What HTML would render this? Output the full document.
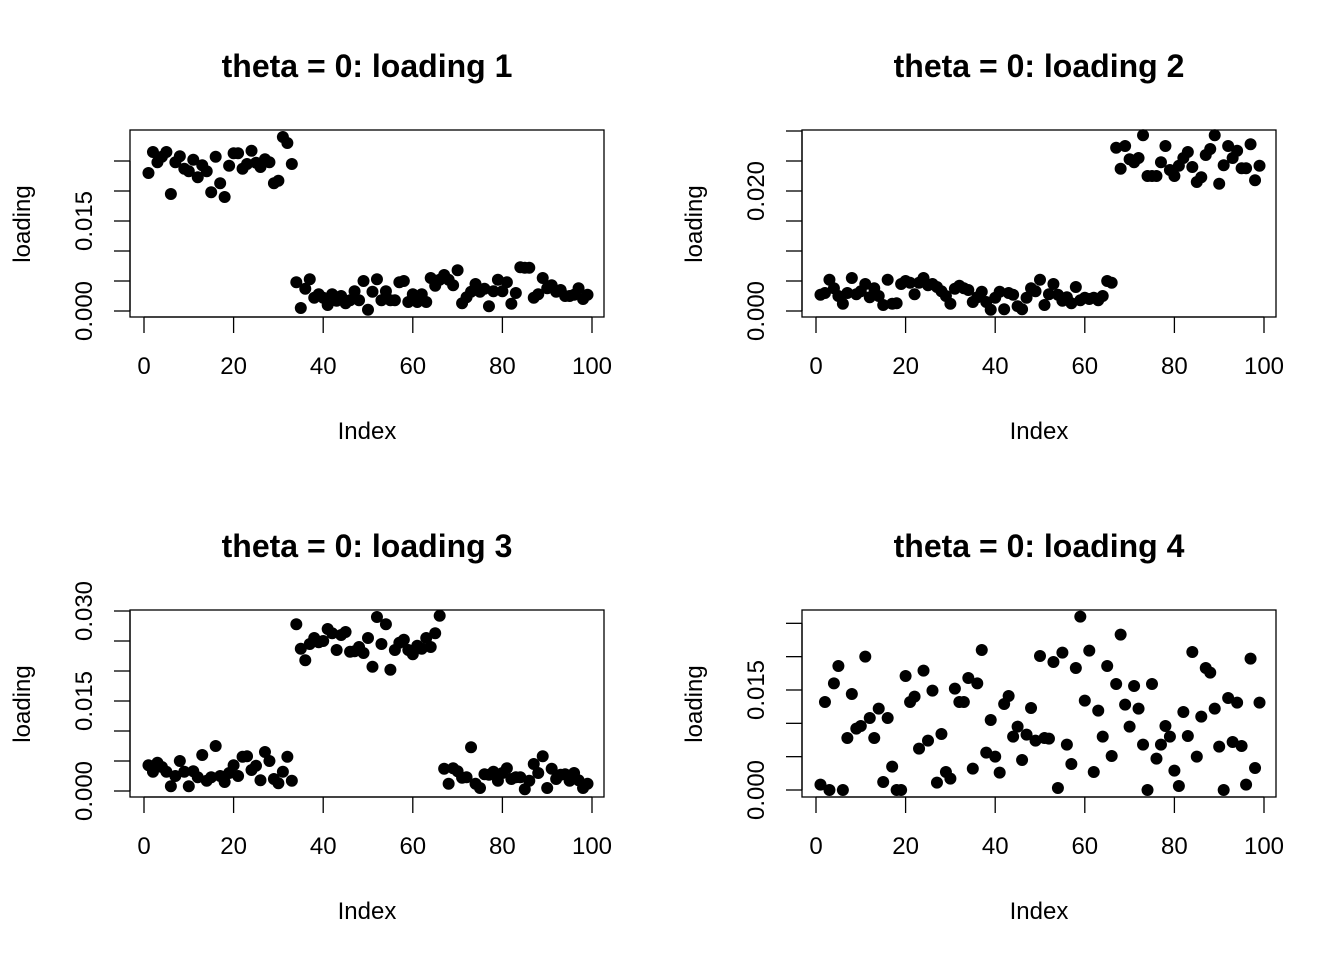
<!DOCTYPE html>
<html><head><meta charset="utf-8"><style>
body{margin:0;background:#fff}
svg{display:block;font-family:"Liberation Sans",Arial,sans-serif}
</style></head><body>
<svg id="c" width="1344" height="960"></svg>
<script>
const indexTicks=[0,20,40,60,80,100];
const load1=[23.0,26.5,24.8,25.7,26.5,19.5,24.8,25.8,23.7,23.3,25.2,22.3,24.3,23.3,19.8,25.7,21.3,19.0,24.2,26.3,26.3,23.7,24.5,26.7,24.7,24.0,25.3,24.8,21.3,21.7,29.0,28.0,24.5,4.8,0.5,3.7,5.3,2.2,2.8,2.2,1.0,2.8,1.7,2.5,1.3,1.8,3.3,1.8,5.0,0.2,3.2,5.3,1.8,3.3,1.8,1.8,4.8,5.0,1.5,2.8,1.5,2.8,1.5,5.5,4.2,5.2,6.0,5.2,4.3,6.8,1.3,2.3,3.2,4.5,3.2,3.7,0.8,3.3,5.2,3.3,4.8,1.2,3.0,7.3,7.2,7.2,2.2,2.8,5.5,3.8,4.3,3.2,3.5,2.5,2.5,2.7,3.8,2.0,2.7];
const load2=[2.7,3.0,5.2,3.8,2.5,1.2,3.0,5.5,2.8,3.3,4.5,2.3,3.8,2.5,1.0,5.2,1.2,1.3,4.5,5.0,4.7,2.8,4.7,5.5,4.3,4.5,4.0,3.3,2.5,1.2,3.7,4.2,3.8,3.5,1.5,2.3,3.2,1.5,0.2,2.2,3.2,0.3,3.0,2.7,0.8,0.3,2.2,3.8,3.3,5.2,1.0,2.8,4.5,2.7,1.7,2.3,1.3,4.0,1.8,2.2,2.0,2.2,1.8,2.5,5.0,4.7,27.2,23.7,27.5,25.3,24.8,25.5,29.3,22.5,22.5,22.5,24.8,27.5,23.5,22.5,24.2,25.5,26.5,24.0,21.5,22.3,26.0,27.0,29.3,21.2,24.3,27.5,25.5,26.7,23.8,23.8,27.8,21.8,24.2];
const load3=[4.3,3.2,4.7,4.0,3.2,0.8,2.5,5.0,3.2,0.8,3.3,2.3,6.0,1.7,2.3,7.5,2.5,1.5,3.0,4.3,2.5,5.7,5.8,3.5,4.2,1.8,6.5,5.0,2.0,1.3,3.2,5.7,1.7,27.8,23.7,21.8,24.5,25.5,24.8,25.0,27.0,26.3,23.5,26.0,26.5,23.2,23.3,24.0,23.0,25.5,20.7,29.0,24.5,27.8,20.2,23.5,24.7,25.2,23.5,22.8,24.2,23.7,25.5,24.0,26.3,29.2,3.7,1.2,3.8,3.3,2.2,2.3,7.3,1.2,0.5,2.8,2.7,3.2,1.7,3.0,3.8,2.0,2.3,2.3,0.3,1.7,4.5,3.0,5.8,0.5,3.7,2.0,2.7,2.8,1.7,3.0,1.8,0.5,1.2];
const load4=[0.8,13.2,0,16.0,18.6,0,7.8,14.4,9.2,9.6,20.0,10.8,7.8,12.2,1.2,10.8,3.5,0,0,17.1,13.2,14.0,6.2,17.9,7.4,14.9,1.1,8.4,2.7,1.7,15.2,13.2,13.2,16.8,3.2,16.0,21.0,5.6,10.5,5.0,2.6,12.9,14.1,8.0,9.5,4.5,8.3,12.3,7.4,20.1,7.8,7.7,19.2,0.3,20.6,6.8,3.9,18.3,26.0,13.4,20.9,2.7,11.9,8.0,18.6,5.1,15.9,23.3,12.8,9.5,15.6,12.2,6.8,0,15.9,4.7,6.8,9.6,8.0,2.9,0.6,11.7,8.1,20.7,5.0,11.0,18.3,17.6,12.2,6.5,0,13.8,7.2,13.1,6.6,0.8,19.7,3.3,13.1];
const yTicks1=[0,5,10,15,20,25], yLab1=["0.000","","","0.015","",""];
const yTicks2=[0,5,10,15,20,25,30], yLab2=["0.000","","","","0.020","",""];
const yTicks3=[0,5,10,15,20,25,30], yLab3=["0.000","","","0.015","","","0.030"];
const yTicks4=[0,5,10,15,20,25], yLab4=["0.000","","","0.015","",""];
const panels=[
 {t:"theta = 0: loading 1",ox:0,oy:0,y0:311,k:6,d:load1,yt:yTicks1,yl:yLab1},
 {t:"theta = 0: loading 2",ox:672,oy:0,y0:311,k:6,d:load2,yt:yTicks2,yl:yLab2},
 {t:"theta = 0: loading 3",ox:0,oy:480,y0:311,k:6,d:load3,yt:yTicks3,yl:yLab3},
 {t:"theta = 0: loading 4",ox:672,oy:480,y0:310,k:6.667,d:load4,yt:yTicks4,yl:yLab4}];
const svg=document.getElementById('c');const NS="http://www.w3.org/2000/svg";
function mk(tag,attrs,parent){const e=document.createElementNS(NS,tag);for(const a in attrs)e.setAttribute(a,attrs[a]);parent.appendChild(e);return e;}
panels.forEach((p,pi)=>{
 const g=mk('g',{transform:`translate(${p.ox},${p.oy})`},svg);
 
 
 const X=i=>144+4.48*i, Y=v=>p.y0-p.k*v;
 const r=mk('rect',{x:130,y:130,width:474,height:187,fill:'none',stroke:'#000','stroke-width':1.3},g);
 
 
 const tt=mk('text',{x:367,y:77,'text-anchor':'middle','font-size':32,'font-weight':'bold'},g);tt.textContent=p.t;
 
 
 const xa=mk('g',{},g);
 
 
 mk('line',{x1:X(0),x2:X(100),y1:317,y2:317,stroke:'#000','stroke-width':1.3},xa);
 indexTicks.forEach(v=>{mk('line',{x1:X(v),x2:X(v),y1:317,y2:333,stroke:'#000','stroke-width':1.3},xa);
  const l=mk('text',{x:X(v),y:374,'text-anchor':'middle','font-size':24},xa);l.textContent=v;});
 const xt=mk('text',{x:367,y:439,'text-anchor':'middle','font-size':24},g);xt.textContent="Index";
 
 
 const ya=mk('g',{},g);
 
 
 mk('line',{x1:130,x2:130,y1:Y(p.yt[0]),y2:Y(p.yt[p.yt.length-1]),stroke:'#000','stroke-width':1.3},ya);
 p.yt.forEach((v,j)=>{mk('line',{x1:114,x2:130,y1:Y(v),y2:Y(v),stroke:'#000','stroke-width':1.3},ya);
  if(p.yl[j]){const l=mk('text',{x:0,y:0,'text-anchor':'middle','font-size':24,transform:`translate(92,${Y(v)}) rotate(-90)`},ya);l.textContent=p.yl[j];}});
 const yt=mk('text',{x:0,y:0,'text-anchor':'middle','font-size':24,transform:`translate(30,224) rotate(-90)`},g);yt.textContent="loading";
 
 
 p.d.forEach((v,i)=>{const c=mk('circle',{cx:X(i+1),cy:Y(v),r:6,fill:'#000'},g);
  
  });
});
</script>
</body></html>
